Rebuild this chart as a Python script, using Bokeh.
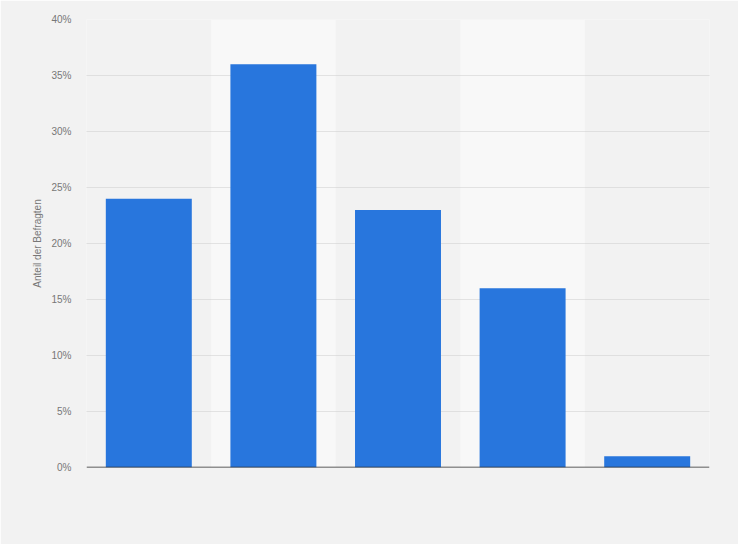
from bokeh.plotting import figure
from bokeh.models import FactorRange, Range1d, PrintfTickFormatter, FixedTicker, Span, ColumnDataSource
from bokeh.embed import file_html
from bokeh.resources import INLINE

# Data
categories = ["1", "2", "3", "4", "5"]
shares = [24, 36, 23, 16, 1]
y_ticks = [0, 5, 10, 15, 20, 25, 30, 35, 40]
band_categories = ["2", "4"]
y_max = 40

BG = "#f2f2f2"
BAND = "#f8f8f8"
BAR = "#2876dd"
TXT = "#777777"
FONT = "Liberation Sans"

p = figure(
    x_range=FactorRange(*categories, range_padding=0),
    y_range=Range1d(0, y_max),
    width=738, height=544,
    output_backend="svg", toolbar_location=None,
    min_border_left=86, min_border_right=29, min_border_top=19, min_border_bottom=77,
)
p.background_fill_color = BG
p.border_fill_color = BG
p.outline_line_color = None

# alternating bands (drawn beneath the grid)
p.vbar(x=band_categories, top=[y_max] * len(band_categories), bottom=0, width=1.0,
       fill_color=BAND, line_color=None, level="image")

src = ColumnDataSource(dict(cat=categories, val=shares))
p.vbar(x="cat", top="val", bottom=0, width=0.69, source=src, fill_color=BAR, line_color=None)

# grid
p.xgrid.grid_line_color = None
p.ygrid.grid_line_color = "#cccccc"
p.ygrid.grid_line_dash = "1 1"
p.ygrid.grid_line_width = 1
p.ygrid.level = "underlay"

# baseline
p.add_layout(Span(location=0, dimension="width", line_color="#2a2a2a", line_width=1.3))

# axes
p.xaxis.visible = False
ya = p.yaxis[0]
ya.ticker = FixedTicker(ticks=y_ticks)
ya.formatter = PrintfTickFormatter(format="%d%%")
ya.axis_line_color = None
ya.major_tick_line_color = None
ya.minor_tick_line_color = None
ya.major_tick_out = 0
ya.major_tick_in = 0
ya.major_label_standoff = 15
ya.major_label_text_font = FONT
ya.major_label_text_font_size = "10px"
ya.major_label_text_color = TXT
ya.axis_label = "Anteil der Befragten"
ya.axis_label_text_font = FONT
ya.axis_label_text_font_size = "10px"
ya.axis_label_text_font_style = "normal"
ya.axis_label_text_color = TXT
ya.axis_label_standoff = 5

html = file_html(p, INLINE)
html = html.replace("<body>", '<body style="background-color:#f2f2f2;">', 1)
open("out.html", "w").write(html)
